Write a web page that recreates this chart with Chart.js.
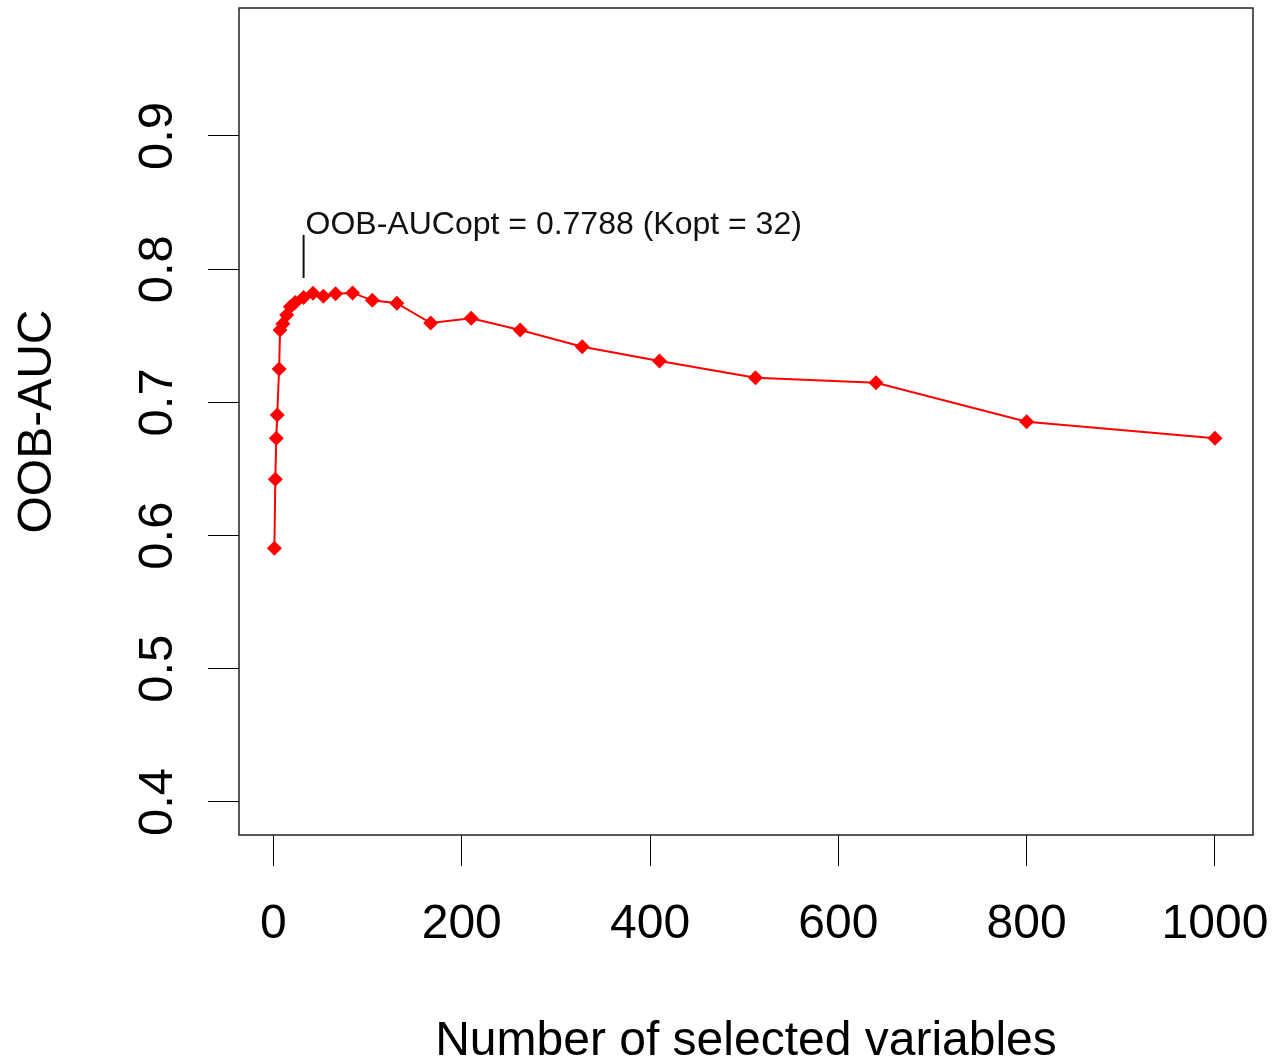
<!DOCTYPE html>
<html><head><meta charset="utf-8">
<script src="https://cdn.jsdelivr.net/npm/chart.js@4/dist/chart.umd.min.js"></script>
<style>html,body{margin:0;padding:0;background:#fff;} #wrap{width:1274px;height:1062px;}</style>
</head><body><div id="wrap"><canvas id="c" width="1274" height="1062"></canvas></div>
<script>
// ---- data ----
const numVars = [1, 2, 3, 4, 6, 7, 10, 14, 18, 23, 32, 42, 53, 66, 84, 105, 131, 167, 210, 262, 328, 410, 512, 640, 800, 1000];
const oobAuc  = [0.5905, 0.6423, 0.6730, 0.6905, 0.7251, 0.7544, 0.7590, 0.7656, 0.7718, 0.7750, 0.7788, 0.7819, 0.7797, 0.7816, 0.7822, 0.7766, 0.7745, 0.7596, 0.7631, 0.7544, 0.7418, 0.7311, 0.7185, 0.7148, 0.6855, 0.6730];
const xTicks = [0, 200, 400, 600, 800, 1000];
const yTicks = [0.4, 0.5, 0.6, 0.7, 0.8, 0.9];
const xTitle = 'Number of selected variables';
const yTitle = 'OOB-AUC';
const kOpt = 32;
const aucOpt = 0.7788;
const annotText = 'OOB-AUCopt = ' + aucOpt.toFixed(4) + ' (Kopt = ' + kOpt + ')';
const annotLineBottom = 0.7934;
const annotLineTop = 0.8257;

const FONT = '"Liberation Sans", Arial, sans-serif';

const boxPlugin = {
  id: 'box',
  afterDraw(chart) {
    const {ctx, chartArea: a, scales} = chart;
    ctx.save();
    ctx.strokeStyle = '#222';
    ctx.lineWidth = 1.5;
    ctx.strokeRect(a.left, a.top, a.right - a.left, a.bottom - a.top);
    // y tick labels (rotated, as in R)
    ctx.fillStyle = '#000';
    ctx.font = '49px ' + FONT;
    ctx.textAlign = 'center';
    ctx.textBaseline = 'alphabetic';
    const ys = scales.y;
    yTicks.forEach(v => {
      const py = ys.getPixelForValue(v);
      ctx.save();
      ctx.translate(172, py);
      ctx.rotate(-Math.PI / 2);
      ctx.fillText(v.toFixed(1), 0, 0);
      ctx.restore();
    });
    // annotation
    const xs = scales.x;
    const px = xs.getPixelForValue(kOpt);
    ctx.strokeStyle = '#111';
    ctx.lineWidth = 2;
    ctx.beginPath();
    ctx.moveTo(px, ys.getPixelForValue(annotLineBottom));
    ctx.lineTo(px, ys.getPixelForValue(annotLineTop));
    ctx.stroke();
    ctx.font = '32px ' + FONT;
    ctx.textAlign = 'left';
    ctx.fillStyle = '#111';
    ctx.fillText(annotText, px + 2, ys.getPixelForValue(annotLineTop) - 1);
    ctx.restore();
  }
};

new Chart(document.getElementById('c'), {
  type: 'line',
  data: {
    datasets: [{
      data: numVars.map((v, i) => ({x: v, y: oobAuc[i]})),
      borderColor: '#ff0000',
      backgroundColor: '#ff0000',
      borderWidth: 2,
      pointStyle: 'rectRot',
      pointRadius: 7.5,
      pointBorderWidth: 0,
      pointBackgroundColor: '#ff0000',
      tension: 0,
      fill: false
    }]
  },
  options: {
    responsive: false,
    animation: false,
    devicePixelRatio: 1,
    layout: {padding: {left: 0, right: 21, top: 8, bottom: 0}},
    plugins: {legend: {display: false}, tooltip: {enabled: false}},
    scales: {
      x: {
        type: 'linear',
        min: -36.6,
        max: 1040.4,
        afterBuildTicks: s => { s.ticks = xTicks.map(v => ({value: v})); },
        afterFit: s => { s.height = 227; s.paddingLeft = 0; s.paddingRight = 0; },
        border: {display: false},
        grid: {drawOnChartArea: false, drawTicks: true, tickLength: 31, color: '#000', lineWidth: 1},
        ticks: {color: '#000', font: {family: FONT, size: 48}, padding: 30, maxRotation: 0, minRotation: 0, autoSkip: false, callback: v => String(v)},
        title: {display: true, text: xTitle, color: '#000', font: {family: FONT, size: 48}, padding: {top: 0, bottom: -9}}
      },
      y: {
        type: 'linear',
        min: 0.3752,
        max: 0.9961,
        afterBuildTicks: s => { s.ticks = yTicks.map(v => ({value: v})); },
        afterFit: s => { s.width = 239; s.paddingTop = 0; s.paddingBottom = 0; },
        border: {display: false},
        grid: {drawOnChartArea: false, drawTicks: true, tickLength: 31, color: '#000', lineWidth: 1},
        ticks: {display: false},
        title: {display: true, text: yTitle, color: '#000', font: {family: FONT, size: 48}, padding: {top: 9, bottom: 0}}
      }
    }
  },
  plugins: [boxPlugin]
});
</script></body></html>
